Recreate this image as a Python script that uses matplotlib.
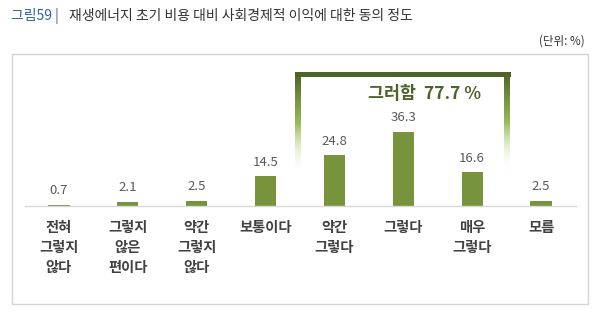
import matplotlib
matplotlib.use("Agg")
import matplotlib.pyplot as plt
import numpy as np
from matplotlib.patches import Rectangle
from matplotlib.colors import to_rgba

plt.rcParams['font.family'] = ['Noto Sans CJK KR', 'DejaVu Sans']

categories = ["전혀\n그렇지\n않다", "그렇지\n않은\n편이다", "약간\n그렇지\n않다", "보통이다",
              "약간\n그렇다", "그렇다", "매우\n그렇다", "모름"]
values = [0.7, 2.1, 2.5, 14.5, 24.8, 36.3, 16.6, 2.5]
title_prefix = "그림59 |"
title_text = "재생에너지 초기 비용 대비 사회경제적 이익에 대한 동의 정도"
unit_text = "(단위: %)"
bracket_text = "그러함  77.7 %"

W, H = 599, 314
fig = plt.figure(figsize=(W / 100, H / 100), dpi=100)
fig.patch.set_facecolor('white')

# overlay axes in pixel coordinates
ov = fig.add_axes([0, 0, 1, 1])
ov.axis('off')

ov.text(11, 16, title_prefix, color='#2f5fae', fontsize=10, va='center', ha='left')
ov.text(69, 16, title_text, color='#333333', fontsize=10, va='center', ha='left')
ov.text(585, 41, unit_text, color='#333333', fontsize=8.3, va='center', ha='right')

ov.add_patch(Rectangle((11.5, 53.5), 576, 250, fill=False, edgecolor='#d4d4d4', lw=1.0))

# bracket
dark = '#4f6228'
ov.add_patch(Rectangle((295, 72), 216, 5, facecolor=dark, edgecolor='none', zorder=3))
grad_n = 200
top_c = np.array(to_rgba('#4f6228'))
mid_c = np.array(to_rgba('#9bbb59'))
bot_c = np.array([1, 1, 1, 0.0])
t = np.linspace(0, 1, grad_n)
cols = np.zeros((grad_n, 1, 4))
for i, tt in enumerate(t):
    if tt < 0.5:
        c = top_c + (mid_c - top_c) * (tt / 0.5)
    else:
        c = mid_c + (bot_c - mid_c) * ((tt - 0.5) / 0.5)
    cols[i, 0] = c
ov.imshow(cols, extent=(295, 301, 174, 73), aspect='auto', zorder=2, interpolation='bilinear')
ov.imshow(cols, extent=(504, 510, 172, 73), aspect='auto', zorder=2, interpolation='bilinear')
ov.set_xlim(0, W)
ov.set_ylim(H, 0)
ov.text(424, 94, bracket_text, color=dark, fontsize=12.5, fontweight='bold', va='center', ha='center')

# main axes
x0, x1 = 24.5, 575.5
ybase = 206
ppu = 2.05
ymax = 40
ax = fig.add_axes([x0 / W, (H - ybase) / H, (x1 - x0) / W, ymax * ppu / H])
ax.patch.set_alpha(0)
x = np.arange(len(values))
ax.bar(x, values, width=0.31, color='#77933c', zorder=2)
ax.set_xlim(-0.5, len(values) - 0.5)
ax.set_ylim(0, ymax)
for s in ['top', 'right', 'left']:
    ax.spines[s].set_visible(False)
ax.spines['bottom'].set_color('#d9d9d9')
ax.spines['bottom'].set_linewidth(1.0)
ax.set_yticks([])
ax.set_xticks(x)
ax.set_xticklabels(categories, fontsize=10.3, fontweight='bold', color='#404040', linespacing=1.55, va='top')
ax.tick_params(axis='x', length=0, pad=11)
for xi, v in zip(x, values):
    ax.annotate(f"{v}", (xi, v), xytext=(0, 10), textcoords='offset points',
                ha='center', va='center', fontsize=9.5, color='#595959', annotation_clip=False)

fig.savefig('out.png', dpi=100, facecolor='white')
